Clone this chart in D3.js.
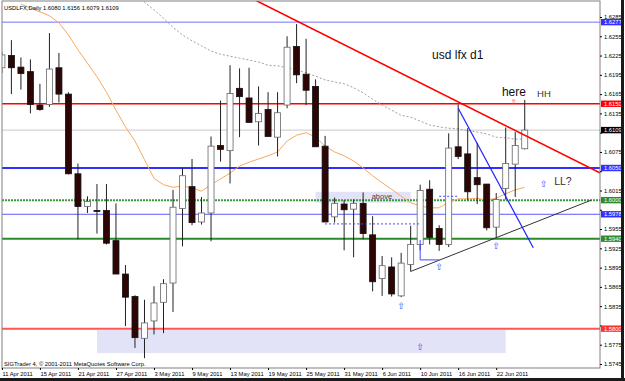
<!DOCTYPE html>
<html>
<head>
<meta charset="utf-8">
<script src="https://cdn.jsdelivr.net/npm/d3@7/dist/d3.min.js"></script>
<style>
  body { margin: 0; background: #fff; }
  svg { display: block; }
  text { font-family: "Liberation Sans", Arial, sans-serif; }
</style>
</head>
<body>
<script>
// USDLFX daily bars, 11 Apr 2011 .. 27 Jun 2011 (bar index 0..55)
var opens  = [1.6206,1.6225,1.6207,1.6200,1.6148,1.6149,1.6206,1.6165,1.6041,1.5990,
              1.5984,1.5984,1.5937,1.5885,1.5850,1.5785,1.5812,1.5841,1.5871,1.5987,
              1.6021,1.5966,1.5980,1.6085,1.6077,1.6174,1.6159,1.6122,1.6141,1.6098,
              1.6148,1.6239,1.6196,1.6177,1.6084,1.5974,1.5994,1.5986,1.5995,1.5946,
              1.5878,1.5896,1.5851,1.5900,1.5931,1.6017,1.5956,1.5931,1.6083,1.6072,
              1.6035,1.6025,1.5958,1.6018,1.6056,1.6080];
var highs  = [1.6231,1.6249,1.6222,1.6219,1.6181,1.6260,1.6229,1.6168,1.6057,1.6006,
              1.6025,1.6025,1.5995,1.5899,1.5852,1.5845,1.5866,1.5877,1.6016,1.6050,
              1.6064,1.6005,1.6099,1.6155,1.6210,1.6205,1.6206,1.6177,1.6168,1.6168,
              1.6255,1.6274,1.6251,1.6188,1.6100,1.6004,1.6000,1.6001,1.6012,1.5975,
              1.5913,1.5911,1.5918,1.5960,1.6024,1.6031,1.5961,1.6104,1.6149,1.6112,
              1.6089,1.6025,1.6011,1.6113,1.6106,1.6156];
var lows   = [1.6198,1.6165,1.6172,1.6135,1.6139,1.6145,1.6152,1.6040,1.5939,1.5980,
              1.5948,1.5931,1.5885,1.5804,1.5770,1.5754,1.5791,1.5793,1.5826,1.5928,
              1.5961,1.5962,1.5936,1.6060,1.6026,1.6098,1.6121,1.6085,1.6099,1.6068,
              1.6143,1.6182,1.6148,1.6083,1.5966,1.5965,1.5922,1.5911,1.5939,1.5858,
              1.5851,1.5850,1.5849,1.5889,1.5922,1.5931,1.5921,1.5927,1.6064,1.6000,
              1.5994,1.5953,1.5942,1.6001,1.6005,1.6079];
var closes = [1.6226,1.6206,1.6197,1.6149,1.6141,1.6204,1.6165,1.6041,1.5990,1.5998,
              1.5983,1.5933,1.5885,1.5849,1.5786,1.5809,1.5840,1.5870,1.5989,1.6038,
              1.5965,1.5980,1.6084,1.6079,1.6166,1.6161,1.6121,1.6135,1.6099,1.6136,
              1.6238,1.6195,1.6171,1.6083,1.5966,1.5995,1.5985,1.5995,1.5948,1.5873,
              1.5898,1.5854,1.5902,1.5931,1.6015,1.5942,1.5931,1.6081,1.6068,1.6013,
              1.6024,1.5957,1.6001,1.6057,1.6085,1.6109];

// fast MA (orange) from bar 2, slow MA (grey dotted) from bar 14
var maFastStart = 2;
var maFast = [1.6305,1.6299,1.6293,1.6287,1.6276,1.6257,1.6234,1.6213,1.6192,1.6168,
              1.6140,1.6114,1.6092,1.6063,1.6034,1.6024,1.6020,1.6022,1.6019,1.6014,
              1.6024,1.6033,1.6042,1.6053,1.6059,1.6064,1.6069,1.6075,1.6092,1.6101,
              1.6105,1.6098,1.6084,1.6075,1.6069,1.6061,1.6050,1.6038,1.6027,1.6017,
              1.6006,1.5996,1.5991,1.5988,1.5988,1.5997,1.6002,1.6002,1.6003,1.6000,
              1.6003,1.6010,1.6016,1.6020];
var maSlowStart = 14;
var maSlow = [1.6321,1.6308,1.6296,1.6283,1.6269,1.6257,1.6248,1.6240,1.6232,1.6227,
              1.6224,1.6221,1.6218,1.6215,1.6210,1.6209,1.6206,1.6203,1.6198,1.6193,
              1.6187,1.6184,1.6181,1.6175,1.6167,1.6157,1.6148,1.6140,1.6132,1.6129,
              1.6123,1.6117,1.6114,1.6112,1.6111,1.6108,1.6106,1.6103,1.6098,1.6097,
              1.6095,1.6095];

var dateLabels = ["11 Apr 2011","15 Apr 2011","21 Apr 2011","27 Apr 2011","3 May 2011",
                  "9 May 2011","13 May 2011","19 May 2011","25 May 2011","31 May 2011",
                  "6 Jun 2011","10 Jun 2011","16 Jun 2011","22 Jun 2011"];
var priceTicks = [1.5745,1.5775,1.5805,1.5835,1.5865,1.5895,1.5925,1.5955,1.5985,1.6015,
                  1.6045,1.6075,1.6105,1.6135,1.6165,1.6195,1.6225,1.6255,1.6285];

var levels      = [1.6277, 1.6150, 1.6050, 1.6000, 1.5978, 1.5940, 1.5800];
var levelColors = ["#7272ff","#ff0000","#2f2fff","#3a9a3a","#5a5aff","#2a8a2a","#ff5555"];
var levelWidths = [1, 1.5, 2, 2, 1, 2, 2];
var levelBoxes  = ["#3030ff","#ff0000","#3030ff","#2e8b2e","#3030ff","#2e8b2e","#ff3030"];
var bid = 1.6109;

// trend lines: [bar, price] pairs
var redTrend   = [[31, 1.6279], [48, 1.6153]];
var blueTrend  = [[48, 1.6143], [55.9, 1.5926]];
var blackTrend = [[43, 1.5889], [62, 1.6000]];
var blueHook   = [[44, 1.5938], [44, 1.5907], [46, 1.5907]];
var dashLines  = [[[34, 1.5963], [44, 1.5963]], [[46, 1.6006], [48, 1.6006]]];
var boxes      = [[33, 1.6013, 43, 1.5996], [10, 1.5798, 53, 1.5762]];
var upArrows   = [[42, 1.5837], [46, 1.5898], [52, 1.5930], [44, 1.5773], [57, 1.6027]];

(function(d3) {
  var width = 625, height = 381;
  var pl = 2, pr = 600, pt = 1, pb = 368;

  var svg = d3.select("body").append("svg")
      .attr("width", width)
      .attr("height", height);

  var x = d3.scaleLinear().domain([0, 55]).range([1.9, 1.9 + 55*9.506]);
  var y = d3.scaleLinear().domain([1.5745, 1.6285]).range([364, 17]);

  svg.append("defs").append("clipPath").attr("id", "plotclip")
    .append("rect").attr("x", pl).attr("y", pt)
      .attr("width", pr-pl).attr("height", pb-pt);

  var g = svg.append("g").attr("clip-path", "url(#plotclip)");

  // shaded zones
  g.selectAll(".zone").data(boxes).enter().append("rect")
      .attr("x", function(d){ return x(d[0]); })
      .attr("y", function(d){ return y(d[1]); })
      .attr("width", function(d){ return x(d[2]) - x(d[0]); })
      .attr("height", function(d){ return y(d[3]) - y(d[1]); })
      .attr("fill", "#e3e3f8");

  // horizontal levels
  g.append("line")
      .attr("x1", pl).attr("x2", pr)
      .attr("y1", y(bid)).attr("y2", y(bid))
      .attr("stroke", "#c8c8c8");
  g.selectAll(".lvl").data(levels).enter().append("line")
      .attr("x1", pl).attr("x2", pr)
      .attr("y1", function(d){ return y(d); }).attr("y2", function(d){ return y(d); })
      .attr("stroke", function(d, i){ return levelColors[i]; })
      .attr("stroke-width", function(d, i){ return levelWidths[i]; })
      .attr("stroke-dasharray", function(d){ return d === 1.6000 ? "2,1" : null; });

  var line = d3.line()
      .x(function(d){ return x(d[0]); })
      .y(function(d){ return y(d[1]); });

  // moving averages
  g.append("path")
      .datum(maFast.map(function(v, i){ return [maFastStart + i, v]; }))
      .attr("d", line).attr("fill", "none")
      .attr("stroke", "#f6aa60").attr("stroke-width", 1);
  g.append("path")
      .datum(maSlow.map(function(v, i){ return [maSlowStart + i, v]; }))
      .attr("d", line).attr("fill", "none")
      .attr("stroke", "#a0a0a0").attr("stroke-width", 1)
      .attr("stroke-dasharray", "2,2");

  // candles
  var bars = d3.range(opens.length);
  g.selectAll(".wick").data(bars).enter().append("line")
      .attr("x1", function(i){ return x(i); }).attr("x2", function(i){ return x(i); })
      .attr("y1", function(i){ return y(highs[i]); })
      .attr("y2", function(i){ return y(lows[i]); })
      .attr("stroke", "#222");
  g.selectAll(".body").data(bars).enter().append("rect")
      .attr("x", function(i){ return x(i) - 3; })
      .attr("width", 6)
      .attr("y", function(i){ return y(Math.max(opens[i], closes[i])); })
      .attr("height", function(i){ return Math.max(1, Math.abs(y(opens[i]) - y(closes[i]))); })
      .attr("fill", function(i){ return closes[i] >= opens[i] ? "#fff" : "#2d0505"; })
      .attr("stroke", function(i){ return closes[i] >= opens[i] ? "#666" : "#111"; })
      .attr("stroke-width", 0.8);

  // trend lines
  var extend = function(p, a, b) {
    var s = (p[1][1] - p[0][1]) / (p[1][0] - p[0][0]);
    return [[a, p[0][1] + s*(a - p[0][0])], [b, p[0][1] + s*(b - p[0][0])]];
  };
  g.append("path").datum(extend(redTrend, 20, 70)).attr("d", line)
      .attr("stroke", "#ff0000").attr("stroke-width", 1.6).attr("fill", "none");
  g.append("path").datum(blueTrend).attr("d", line)
      .attr("stroke", "#1f1fff").attr("stroke-width", 1.2).attr("fill", "none");
  g.append("path").datum(blackTrend).attr("d", line)
      .attr("stroke", "#333").attr("stroke-width", 1).attr("fill", "none");
  g.append("path").datum(blueHook).attr("d", line)
      .attr("stroke", "#4646ff").attr("stroke-width", 1).attr("fill", "none");
  g.selectAll(".dash").data(dashLines).enter().append("path")
      .attr("d", line).attr("fill", "none")
      .attr("stroke", "#4646ff").attr("stroke-dasharray", "2,2");

  // arrows
  g.selectAll(".arr").data(upArrows).enter().append("text")
      .attr("x", function(d){ return x(d[0]); })
      .attr("y", function(d){ return y(d[1]) + 4; })
      .attr("text-anchor", "middle")
      .style("font-family", "'DejaVu Sans'")
      .style("font-size", "9px")
      .attr("fill", "#3c4cff")
      .text("\u21E7");
  g.append("text").attr("x", x(54) - 1.5).attr("y", y(1.6154) + 3)
      .attr("text-anchor", "middle")
      .style("font-family", "'DejaVu Sans'").style("font-size", "7px")
      .attr("fill", "#ff3030").text("\u21E7");

  // annotations
  var note = function(txt, bar, price, size, color) {
    g.append("text").attr("x", x(bar)).attr("y", y(price))
      .style("font-size", size + "px").attr("fill", color).text(txt);
  };
  note("usd lfx d1", 45.25, 1.6220, 12, "#111");
  note("here", 52.6, 1.6162, 12, "#111");
  note("HH", 56.3, 1.6161, 9.5, "#333");
  note("LL?", 58.1, 1.6024, 10.5, "#333");
  note("above", 38.9, 1.6002, 7.5, "#444");

  // frame
  svg.append("rect").attr("x", pl).attr("y", pt)
      .attr("width", pr-pl).attr("height", pb-pt)
      .attr("fill", "none").attr("stroke", "#808080");

  svg.append("text").attr("x", 4).attr("y", 10)
      .style("font-size", "5.8px").attr("fill", "#000")
      .text("USDLFX,Daily  1.6080 1.6156 1.6079 1.6109");
  svg.append("text").attr("x", 4).attr("y", 366)
      .style("font-size", "5.8px").attr("fill", "#000")
      .text("SIGTrader 4, \u00A9 2001-2011 MetaQuotes Software Corp.");

  // price axis; tick labels sitting under a level box are hidden like in the terminal
  var allLevels = levels.concat([bid]);
  var allBoxes = levelBoxes.concat(["#000"]);
  var shown = priceTicks.filter(function(t){
    return allLevels.every(function(l){ return Math.abs(y(t) - y(l)) > 4.6; });
  });
  var ya = svg.append("g").attr("transform", "translate(" + pr + ",0)")
      .call(d3.axisRight(y).tickValues(priceTicks).tickFormat(function(t){
              return shown.indexOf(t) >= 0 ? t.toFixed(4) : ""; })
            .tickSize(2).tickPadding(2));
  ya.select(".domain").remove();
  ya.selectAll("text").style("font-size", "5.8px").style("font-family", "'Liberation Sans', Arial");

  // level labels
  var lab = svg.selectAll(".lab").data(allLevels).enter().append("g")
      .attr("transform", function(d){ return "translate(601," + y(d) + ")"; });
  lab.append("rect").attr("x", 0).attr("y", -3.2).attr("width", 20.5).attr("height", 6.4)
      .attr("fill", function(d, i){ return allBoxes[i]; });
  lab.append("text").attr("x", 3).attr("y", 2.1)
      .style("font-size", "5.8px").attr("fill", "#fff")
      .text(function(d){ return d.toFixed(4); });

  // time axis
  var xa = svg.append("g").attr("transform", "translate(0," + pb + ")")
      .call(d3.axisBottom(x).tickValues(d3.range(0, 56, 4))
            .tickFormat(function(d){ return dateLabels[d/4]; }).tickSize(2));
  xa.select(".domain").remove();
  xa.selectAll("text").attr("text-anchor", "start").attr("x", 0).attr("y", 4)
      .style("font-size", "5.8px").style("font-family", "'Liberation Sans', Arial");

  // window border
  svg.append("rect").attr("x", 621).attr("y", 0).attr("width", 3).attr("height", height).attr("fill", "#1a1a1a");
  svg.append("rect").attr("x", 0).attr("y", 378).attr("width", width).attr("height", 3).attr("fill", "#1a1a1a");
})(d3);
</script>
</body>
</html>
